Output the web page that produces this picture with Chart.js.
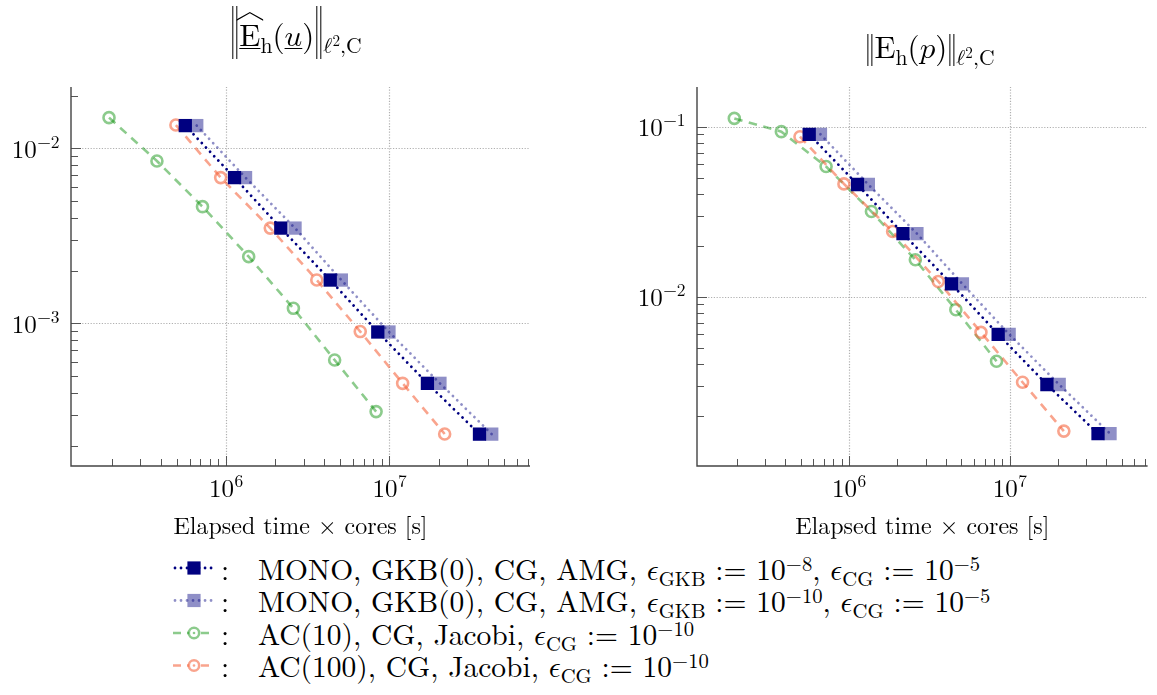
<!DOCTYPE html>
<html><head><meta charset="utf-8">
<script src="https://cdn.jsdelivr.net/npm/chart.js@4.4.1/dist/chart.umd.min.js"></script>
<style>
html,body{margin:0;padding:0;background:#fff}
body{width:1157px;height:695px;position:relative;overflow:hidden;color:#000}
.f{font-family:'Latin Modern Roman','Liberation Serif','DejaVu Serif',serif}
#w1{position:absolute;left:0;top:0;width:580px;height:545px}
#w2{position:absolute;left:620px;top:0;width:537px;height:545px}
.ttl{position:absolute;white-space:nowrap;font-size:31px;line-height:1;transform:translateX(-50%)}
.sb{font-size:0.7em;position:relative;top:0.3em}
.sp{font-size:0.7em;position:relative;top:-0.45em}
.bars{display:inline-block;width:3px;border-left:1.2px solid #000;border-right:1.2px solid #000;margin:0 2px}
.hatE{position:relative;display:inline-block;text-decoration:underline;text-decoration-thickness:1.2px;text-underline-offset:2px}
.hat{position:absolute;left:-3px;right:-3px;top:-6px;height:9px;background:#000;clip-path:polygon(0% 84%,50% 0%,100% 84%,100% 100%,50% 15%,0% 100%)}
.ul{text-decoration:underline;text-decoration-thickness:1.2px;text-underline-offset:2px}
.leg{position:absolute;left:258px;font-size:29.5px;white-space:nowrap;line-height:32px;height:32px}
.colon{position:absolute;left:221px;font-size:29.5px;line-height:32px;height:32px}
.m{font-family:'Latin Modern Math','DejaVu Serif',serif;font-style:normal}
#legc{position:absolute;left:165px;top:545px}
</style>
</head><body class="f">
<div id="w1"><canvas id="c1" width="580" height="545"></canvas></div>
<div id="w2"><canvas id="c2" width="537" height="545"></canvas></div>

<div class="ttl f" style="left:296px;top:6px"><span class="bars" style="height:53px;vertical-align:-13px"></span><span class="hatE">E<span class="hat"></span></span><span class="sb">h</span>(<span class="ul"><span class="m">𝑢</span></span>)<span class="bars" style="height:53px;vertical-align:-13px"></span><span class="sb"><span class="m">ℓ</span><span class="sp">2</span>,C</span></div>
<div class="ttl f" style="left:930px;top:30px"><span class="bars" style="height:32px;vertical-align:-8px"></span>E<span class="sb">h</span>(<span class="m">𝑝</span>)<span class="bars" style="height:32px;vertical-align:-8px"></span><span class="sb"><span class="m">ℓ</span><span class="sp">2</span>,C</span></div>

<canvas id="legc" width="60" height="140"></canvas>
<div class="colon f" style="top:552px">:</div>
<div class="colon f" style="top:584px">:</div>
<div class="colon f" style="top:617px">:</div>
<div class="colon f" style="top:649px">:</div>
<div class="leg f" style="top:552px">MONO, GKB(0), CG, AMG, <span class="m">𝜖</span><span class="sb">GKB</span> := 10<span class="sp">−8</span>, <span class="m">𝜖</span><span class="sb">CG</span> := 10<span class="sp">−5</span></div>
<div class="leg f" style="top:584px">MONO, GKB(0), CG, AMG, <span class="m">𝜖</span><span class="sb">GKB</span> := 10<span class="sp">−10</span>, <span class="m">𝜖</span><span class="sb">CG</span> := 10<span class="sp">−5</span></div>
<div class="leg f" style="top:617px">AC(10), CG, Jacobi, <span class="m">𝜖</span><span class="sb">CG</span> := 10<span class="sp">−10</span></div>
<div class="leg f" style="top:649px">AC(100), CG, Jacobi, <span class="m">𝜖</span><span class="sb">CG</span> := 10<span class="sp">−10</span></div>

<script>
// ---- data (elapsed time x cores [s]) ----
const timeMonoGKB8  = [5.65e5, 1.13e6, 2.17e6, 4.35e6, 8.5e6, 1.71e7, 3.56e7];
const timeMonoGKB10 = [6.64e5, 1.32e6, 2.65e6, 5.09e6, 9.95e6, 2.04e7, 4.23e7];
const timeAC10      = [1.93e5, 3.79e5, 7.2e5, 1.38e6, 2.59e6, 4.63e6, 8.3e6];
const timeAC100     = [4.95e5, 9.3e5, 1.87e6, 3.6e6, 6.64e6, 1.206e7, 2.18e7];
// velocity error
const errUMonoGKB8  = [1.348e-2, 6.80e-3, 3.50e-3, 1.767e-3, 8.92e-4, 4.54e-4, 2.327e-4];
const errUMonoGKB10 = [1.348e-2, 6.80e-3, 3.50e-3, 1.767e-3, 8.92e-4, 4.54e-4, 2.327e-4];
const errUAC10      = [1.497e-2, 8.46e-3, 4.64e-3, 2.404e-3, 1.218e-3, 6.17e-4, 3.13e-4];
const errUAC100     = [1.358e-2, 6.80e-3, 3.50e-3, 1.767e-3, 8.97e-4, 4.54e-4, 2.33e-4];
// pressure error
const errPMonoGKB8  = [9.02e-2, 4.57e-2, 2.353e-2, 1.189e-2, 6.01e-3, 3.045e-3, 1.565e-3];
const errPMonoGKB10 = [9.02e-2, 4.57e-2, 2.353e-2, 1.189e-2, 6.01e-3, 3.045e-3, 1.565e-3];
const errPAC10      = [0.1119, 9.35e-2, 5.83e-2, 3.17e-2, 1.649e-2, 8.39e-3, 4.175e-3];
const errPAC100     = [8.73e-2, 4.61e-2, 2.418e-2, 1.23e-2, 6.17e-3, 3.14e-3, 1.62e-3];
// axis ranges and tick labels
const xRange = [1.13e5, 7.25e7];
const uRange = [1.53e-4, 2.24e-2];
const pRange = [1.01e-3, 0.1712];
const xTickExps = [6, 7];
const uTickExps = [-3, -2];
const pTickExps = [-2, -1];
const xTitle = 'Elapsed time × cores [s]';

const NAVY = 'rgb(0,0,128)';
const NAVY_L = 'rgba(0,0,128,0.44)';
const GREEN = 'rgba(0,140,0,0.45)';
const ORANGE = 'rgba(245,95,55,0.57)';
const FONT = '"Latin Modern Roman", "Liberation Serif", serif';

const pairs = (xs, ys) => xs.map((x, i) => ({x: x, y: ys[i]}));

function drawPow(ctx, exp, x, y, align) {
  const bf = '25px ' + FONT, ef = '17.5px ' + FONT;
  const es = (exp < 0 ? '\u2212' : '') + Math.abs(exp);
  ctx.font = bf; const bw = ctx.measureText('10').width;
  ctx.font = ef; const ew = ctx.measureText(es).width;
  const total = bw + ew;
  const x0 = align === 'center' ? x - total / 2 : x - total;
  ctx.textAlign = 'left'; ctx.textBaseline = 'alphabetic';
  ctx.font = bf; ctx.fillText('10', x0, y);
  ctx.font = ef; ctx.fillText(es, x0 + bw + 0.5, y - 10);
}

const decor = {
  id: 'decor',
  beforeDatasetsDraw(chart, args, o) {
    const ctx = chart.ctx, a = chart.chartArea, xs = chart.scales.x, ys = chart.scales.y;
    ctx.save();
    ctx.strokeStyle = '#b0b0b0'; ctx.lineWidth = 1.2; ctx.setLineDash([1.2, 1.6]);
    o.xExps.forEach(e => { const p = Math.round(xs.getPixelForValue(Math.pow(10, e))) + 0.5;
      ctx.beginPath(); ctx.moveTo(p, a.bottom); ctx.lineTo(p, a.top); ctx.stroke(); });
    o.yExps.forEach(e => { const p = Math.round(ys.getPixelForValue(Math.pow(10, e))) + 0.5;
      ctx.beginPath(); ctx.moveTo(a.left, p); ctx.lineTo(a.right, p); ctx.stroke(); });
    ctx.setLineDash([]);
    const logTicks = (min, max) => { const out = [];
      for (let d = Math.floor(Math.log10(min)); d <= Math.ceil(Math.log10(max)); d++)
        for (let m = 1; m <= 9; m++) { const v = m * Math.pow(10, d); if (v >= min && v <= max) out.push([v, m === 1]); }
      return out; };
    ctx.strokeStyle = '#555'; ctx.lineWidth = 1;
    logTicks(xs.min, xs.max).forEach(([v, maj]) => { const p = Math.round(xs.getPixelForValue(v)) + 0.5;
      ctx.beginPath(); ctx.moveTo(p, a.bottom); ctx.lineTo(p, a.bottom - (maj ? 10 : 7)); ctx.stroke(); });
    logTicks(ys.min, ys.max).forEach(([v, maj]) => { const p = Math.round(ys.getPixelForValue(v)) + 0.5;
      ctx.beginPath(); ctx.moveTo(a.left, p); ctx.lineTo(a.left + (maj ? 10 : 7), p); ctx.stroke(); });
    ctx.strokeStyle = '#444'; ctx.lineWidth = 1.4;
    ctx.beginPath(); ctx.moveTo(a.left, a.top); ctx.lineTo(a.left, a.bottom); ctx.lineTo(a.right, a.bottom); ctx.stroke();
    ctx.fillStyle = '#000';
    o.xExps.forEach(e => drawPow(ctx, e, xs.getPixelForValue(Math.pow(10, e)), a.bottom + 31, 'center'));
    o.yExps.forEach(e => drawPow(ctx, e, a.left - 12, ys.getPixelForValue(Math.pow(10, e)) + 9.5, 'right'));
    ctx.font = '24px ' + FONT; ctx.textAlign = 'center'; ctx.textBaseline = 'alphabetic';
    ctx.fillText(o.xTitle, (a.left + a.right) / 2, a.bottom + 68);
    ctx.restore();
  }
};

function makeDatasets(yM8, yM10, yA10, yA100) {
  return [
    {data: pairs(timeMonoGKB8, yM8), showLine: true, borderColor: NAVY, backgroundColor: NAVY,
     pointStyle: 'rect', pointRadius: 9.4, pointBorderWidth: 0, borderWidth: 2.8,
     borderDash: [0.01, 6], borderCapStyle: 'round', order: 0},
    {data: pairs(timeMonoGKB10, yM10), showLine: true, borderColor: NAVY_L, backgroundColor: NAVY_L,
     pointStyle: 'rect', pointRadius: 9.4, pointBorderWidth: 0, borderWidth: 2.8,
     borderDash: [0.01, 6], borderCapStyle: 'round', order: 1},
    {data: pairs(timeAC10, yA10), showLine: true, borderColor: GREEN, backgroundColor: 'rgba(0,0,0,0)',
     pointStyle: 'circle', pointRadius: 5.5, pointBorderWidth: 2.6, pointBorderColor: GREEN,
     borderWidth: 2.6, borderDash: [8.5, 6.5], order: 3},
    {data: pairs(timeAC100, yA100), showLine: true, borderColor: ORANGE, backgroundColor: 'rgba(0,0,0,0)',
     pointStyle: 'circle', pointRadius: 5.5, pointBorderWidth: 2.6, pointBorderColor: ORANGE,
     borderWidth: 2.6, borderDash: [8.5, 6.5], order: 2}
  ];
}

function makeChart(id, datasets, yRange, yExps, pad) {
  return new Chart(document.getElementById(id), {
    type: 'scatter',
    data: {datasets: datasets},
    options: {
      responsive: false, animation: false, devicePixelRatio: 1,
      layout: {padding: pad},
      elements: {line: {tension: 0}},
      scales: {
        x: {type: 'logarithmic', min: xRange[0], max: xRange[1], display: false},
        y: {type: 'logarithmic', min: yRange[0], max: yRange[1], display: false}
      },
      plugins: {legend: {display: false}, tooltip: {enabled: false},
        decor: {xExps: xTickExps, yExps: yExps, xTitle: xTitle}}
    },
    plugins: [decor]
  });
}

makeChart('c1', makeDatasets(errUMonoGKB8, errUMonoGKB10, errUAC10, errUAC100), uRange, uTickExps,
  {left: 71, right: 50, top: 87, bottom: 79});
makeChart('c2', makeDatasets(errPMonoGKB8, errPMonoGKB10, errPAC10, errPAC100), pRange, pTickExps,
  {left: 77, right: 1, top: 87, bottom: 79});

// legend samples
(function () {
  const ctx = document.getElementById('legc').getContext('2d');
  const rows = [23, 55.5, 88, 120.5];
  const styles = [
    {c: NAVY, dash: [0.01, 6], cap: 'round', w: 2.8, mark: 'sq'},
    {c: NAVY_L, dash: [0.01, 6], cap: 'round', w: 2.8, mark: 'sq'},
    {c: GREEN, dash: [8, 6], cap: 'butt', w: 2.6, mark: 'ci'},
    {c: ORANGE, dash: [8, 6], cap: 'butt', w: 2.6, mark: 'ci'}
  ];
  styles.forEach((s, i) => {
    const y = rows[i];
    ctx.save();
    ctx.strokeStyle = s.c; ctx.lineWidth = s.w; ctx.lineCap = s.cap;
    ctx.setLineDash(s.dash); ctx.lineDashOffset = s.mark === 'ci' ? 0 : -2;
    ctx.beginPath(); ctx.moveTo(8, y); ctx.lineTo(50, y); ctx.stroke();
    ctx.setLineDash([]);
    if (s.mark === 'sq') { ctx.fillStyle = s.c; ctx.fillRect(29 - 6.6, y - 6.6, 13.2, 13.2); }
    else { ctx.beginPath(); ctx.arc(29, y, 5.2, 0, Math.PI * 2); ctx.fillStyle = '#fff'; ctx.fill();
      ctx.strokeStyle = s.c; ctx.stroke(); ctx.fillStyle = s.c; ctx.beginPath(); ctx.arc(29, y, 1.3, 0, Math.PI * 2); ctx.fill(); }
    ctx.restore();
  });
})();
</script>
</body></html>
